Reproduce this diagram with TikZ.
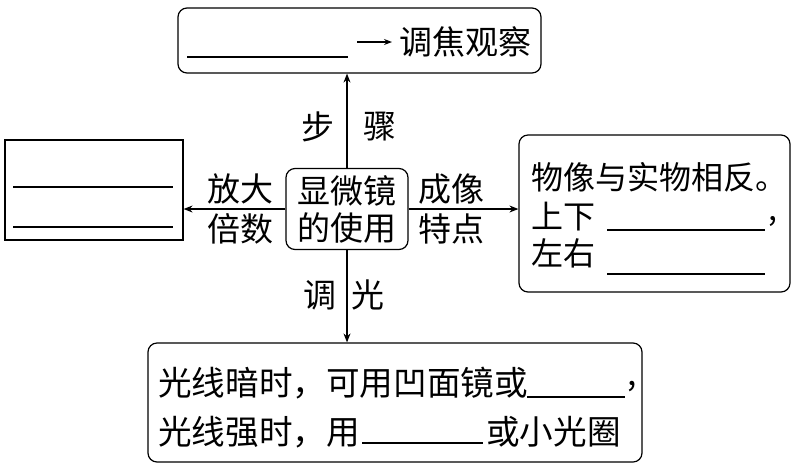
\documentclass[tikz,border=0pt]{standalone}
\usepackage{fontspec}
\setmainfont{Noto Sans CJK SC}
\usetikzlibrary{arrows.meta}
\begin{document}
\begin{tikzpicture}[x=1pt,y=-1pt,
  every node/.style={font=\fontsize{33}{37}\selectfont, inner sep=0pt},
  box/.style={draw, line width=1.2pt, rounded corners=9pt},
  sbox/.style={draw, line width=1.2pt},
  conn/.style={line width=1.1pt, -{Stealth[length=9pt,width=7pt]}},
  blank/.style={line width=1.1pt},
  txt/.style={anchor=west},
  rtxt/.style={anchor=west, font=\fontsize{32}{37}\selectfont},
  btxt/.style={anchor=west, font=\fontsize{33.6}{37}\selectfont}]
\useasboundingbox (0,0) rectangle (797,467);
% boxes
\node[box, minimum width=363pt, minimum height=65pt] (top) at (359.5,40.5) {};
\node[sbox, minimum width=178pt, minimum height=100pt] (lb) at (94,190) {};
\node[box, minimum width=271pt, minimum height=157pt] (rb) at (654.5,213.5) {};
\node[box, minimum width=494pt, minimum height=119pt] (bb) at (395,402.5) {};
\node[box, minimum width=122pt, minimum height=81pt, align=center] (c) at (347,209) {显微镜\\的使用};
% connectors
\draw[conn] (c.north) -- (c.north |- top.south);
\draw[conn] (c.south) -- (c.south |- bb.north);
\draw[conn] (c.west) -- (c.west -| lb.east);
\draw[conn] (c.east) -- (c.east -| rb.west);
% connector labels
\node (l1) at (318,127) {步};
\node (l2) at (380,127) {骤};
\node (l3) at (320,295) {调};
\node (l4) at (368,295) {光};
\node (l5a) at (240,189) {放大};
\node (l5b) at (240,229) {倍数};
\node (l6a) at (451,189) {成像};
\node (l6b) at (451,229) {特点};
% top box content
\draw[blank] (187,57) -- (348,57);
\coordinate (ta) at (357,42);
\coordinate (tb) at (392,42);
\draw[line width=1.1pt, -{Stealth[length=8pt,width=6pt]}] (ta) -- (tb);
\node[txt] (t1) at (399,42) {调焦观察};
% left box content
\draw[blank] (13,187) -- (173,187);
\draw[blank] (13,227) -- (173,227);
% right box content
\node[rtxt] (r1) at (531,177) {物像与实物相反。};
\node[rtxt] (r2) at (531,217) {上下};
\draw[blank] (607,230) -- (765,230);
\node[rtxt] (r3) at (768,222) {,};
\node[rtxt] (r4) at (531,253) {左右};
\draw[blank] (607,274) -- (765,274);
% bottom box content
\node[btxt] (b1) at (158,383) {光线暗时，可用凹面镜或};
\draw[blank] (527,397) -- (625,397);
\node[btxt] (b2) at (627,387) {,};
\node[btxt] (b3) at (158,432) {光线强时，用};
\draw[blank] (362,443) -- (483,443);
\node[btxt] (b4) at (486,432) {或小光圈};
\end{tikzpicture}
\end{document}
